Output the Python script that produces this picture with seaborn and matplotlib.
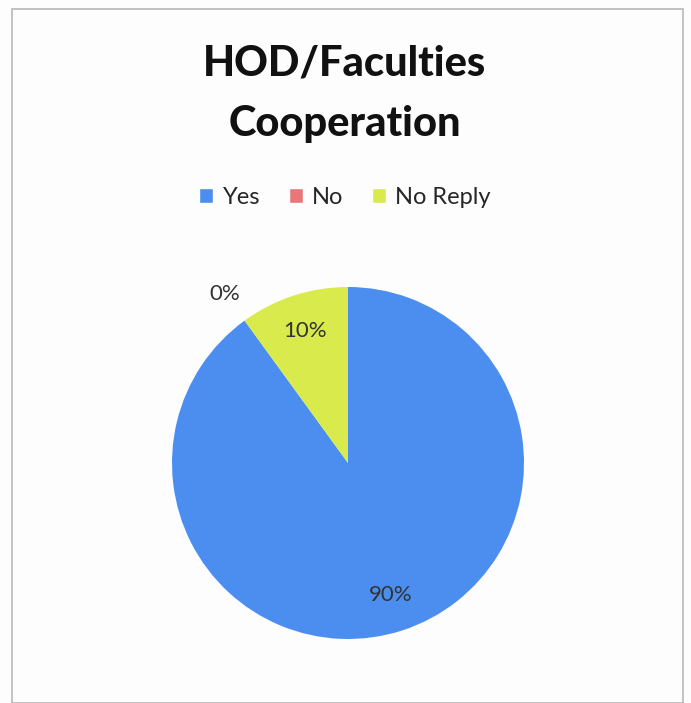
import numpy as np
import matplotlib.pyplot as plt
import seaborn as sns
from matplotlib.patches import Rectangle, Patch

categories = ["Yes", "No", "No Reply"]
values = [90, 0, 10]
colors = ["#4c8ef0", "#e8767a", "#d8ea4c"]

sns.set_theme(style="white")
plt.rcParams['font.family'] = ['Lato', 'DejaVu Sans']

W, H = 691, 703
fig = plt.figure(figsize=(W / 100, H / 100), dpi=100)
fig.patch.set_facecolor("#fdfdfd")

# chart frame
fig.patches.append(Rectangle((12 / W, 0.0), (683 - 12) / W, (H - 9) / H,
                             transform=fig.transFigure, fill=False,
                             edgecolor="#b8b8b8", linewidth=1.2))

fig.text(345 / W, 1 - 63 / H, "HOD/Faculties", ha="center", va="center",
         fontsize=30, fontweight="black", color="#111111")
fig.text(345 / W, 1 - 124 / H, "Cooperation", ha="center", va="center",
         fontsize=30, fontweight="black", color="#111111")

ax = fig.add_axes([172 / W, (H - 639) / H, 352 / W, 352 / H])
wedges, texts, autotexts = ax.pie(values, colors=colors, startangle=90,
                                  counterclock=False, autopct="%d%%",
                                  pctdistance=0.79,
                                  wedgeprops=dict(linewidth=0),
                                  textprops=dict(fontsize=16, color="#333333"))

# zero slice label sits outside the pie
for w, t, v in zip(wedges, autotexts, values):
    if v == 0:
        ang = np.deg2rad((w.theta1 + w.theta2) / 2)
        t.set_position((1.19 * np.cos(ang), 1.19 * np.sin(ang)))
ax.set_xlim(-1, 1)
ax.set_ylim(-1, 1)
ax.set_aspect("equal")

handles = [Patch(facecolor=c, label=l) for c, l in zip(colors, categories)]
fig.legend(handles=handles, loc="center", bbox_to_anchor=(345 / W, 1 - 197 / H),
           ncol=3, frameon=False, fontsize=17, handlelength=0.6, handleheight=0.6,
           handletextpad=0.4, columnspacing=1.2)

fig.savefig("out.png", dpi=100, facecolor=fig.get_facecolor())
